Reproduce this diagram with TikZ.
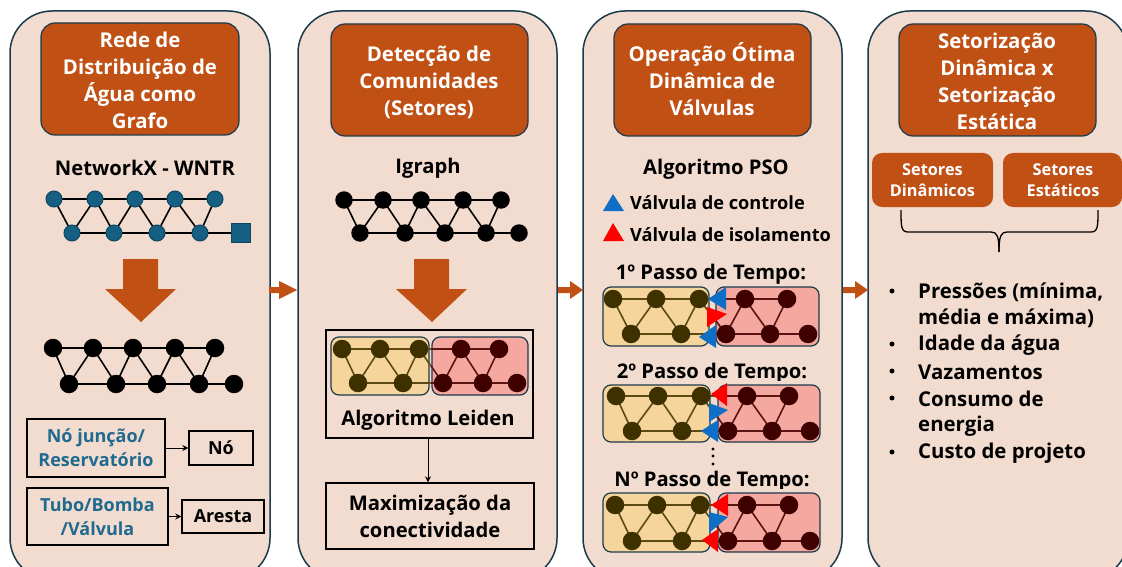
\documentclass[tikz,border=0pt]{standalone}
\usepackage{fontspec}
\setmainfont{Open Sans}
\usetikzlibrary{arrows.meta,calc}
\definecolor{panelfill}{HTML}{F2DCD0}
\definecolor{panelline}{HTML}{1B3A4B}
\definecolor{rust}{HTML}{C05014}
\definecolor{netblue}{HTML}{156082}
\definecolor{netblueline}{HTML}{0F4761}
\definecolor{tealtext}{HTML}{1F6A8E}
\definecolor{ygfill}{HTML}{F5D59B}
\definecolor{rdfill}{HTML}{F5A8A0}
\definecolor{ygnode}{HTML}{3F3000}
\definecolor{rdnode}{HTML}{3F0000}
\definecolor{ygedge}{HTML}{5C4A14}
\definecolor{rdedge}{HTML}{5A1212}
\definecolor{valveblue}{HTML}{0F6FC6}
\definecolor{valvered}{HTML}{FF0000}
\tikzset{
  panel/.style={draw=panelline,line width=1.5pt,fill=panelfill,rounded corners=42pt},
  head/.style={draw=panelline,line width=1.2pt,fill=rust,rounded corners=14pt},
  headtext/.style={text=white,font=\fontsize{20.4}{27}\selectfont\bfseries,align=center,inner sep=0pt},
  subhead/.style={text=white,font=\fontsize{16.3}{21}\selectfont\bfseries,align=center,inner sep=0pt},
  label/.style={text=black,font=\fontsize{20.2}{27}\selectfont\bfseries,align=center,inner sep=0pt},
  mid/.style={text=black,font=\fontsize{20.2}{27}\selectfont\bfseries,align=center,inner sep=0pt},
  legend/.style={text=black,font=\fontsize{18.2}{20}\selectfont\bfseries,anchor=west,inner sep=0pt},
  bul/.style={text=black,font=\fontsize{20.4}{27}\selectfont\bfseries,anchor=west,inner sep=0pt},
  tealbox/.style={text=tealtext,font=\fontsize{18}{24}\selectfont\bfseries,align=center,inner sep=0pt},
  blackbox/.style={text=black,font=\fontsize{18}{24}\selectfont\bfseries,align=center,inner sep=0pt},
  frame/.style={draw=black,line width=1.4pt},
  dot/.style={circle,minimum size=#1,inner sep=0pt},
  bluenode/.style={dot=16pt,fill=netblue,draw=netblueline,line width=1pt},
  blacknode/.style={dot=18.5pt,fill=black},
  smallblack/.style={dot=17.5pt,fill=black},
  yn/.style={dot=18.5pt,fill=ygnode},
  rn/.style={dot=18.5pt,fill=rdnode},
  link/.style={line width=1.6pt},
  orange/.style={fill=rust,draw=none},
  ptr/.style={draw=black,line width=1pt,-{Stealth[length=6pt,width=6pt]}},
  cbox/.style={draw=panelline,line width=1.2pt,rounded corners=8pt},
}
\newcommand{\placecoords}[5]{%
  \foreach \xx [count=\ii] in {#2} {\coordinate (#1t\ii) at (\xx,#3);}
  \foreach \xx [count=\ii] in {#4} {\coordinate (#1b\ii) at (\xx,#5);}
}
\newcommand{\netedges}[2]{%
  \draw[link,#2] (#1t1)--(#1t2)--(#1t3)--(#1t4)--(#1t5)--(#1b4)--(#1t4)--(#1b3)--(#1t3)--(#1b2)--(#1t2)--(#1b1)--(#1t1);
  \draw[link,#2] (#1b1)--(#1b2)--(#1b3)--(#1b4)--(#1b5);
}
\newcommand{\plainnet}[2]{%
  \foreach \ii in {1,...,5} {\node[#2] (#1T\ii) at (#1t\ii) {};}
  \foreach \ii in {1,...,5} {\node[#2] (#1B\ii) at (#1b\ii) {};}
}
\newcommand{\community}[7]{%
  \path[cbox,fill=ygfill] (#2,#6) rectangle (#3,#7);
  \path[cbox,fill=rdfill] (#4,#6) rectangle (#5,#7);
  \begin{scope}
    \clip (#2-3,#6-3) rectangle ({(#3+#4)/2},#7+3);
    \netedges{#1}{ygedge}
  \end{scope}
  \begin{scope}
    \clip ({(#3+#4)/2},#6-3) rectangle (#5+3,#7+3);
    \netedges{#1}{rdedge}
  \end{scope}
  \foreach \nn in {t1,t2,t3,b1,b2} {\node[yn] (#1n\nn) at (#1\nn) {};}
  \foreach \nn in {t4,t5,b3,b4,b5} {\node[rn] (#1n\nn) at (#1\nn) {};}
}
\newcommand{\valve}[4]{\fill[#4] #1 -- #2 -- #3 -- cycle;}
\begin{document}
\begin{tikzpicture}[x=1pt,y=-1pt]
\clip (0,0) rectangle (1122,567);
\fill[white] (0,0) rectangle (1122,567);
% panels
\draw[panel] (10,11) rectangle (270,580);
\draw[panel] (298,11) rectangle (557,580);
\draw[panel] (583,11) rectangle (842,580);
\draw[panel] (868,11) rectangle (1128,580);
% header boxes
\draw[head] (41,23) rectangle (239,135);
\draw[head] (331,24) rectangle (528,136);
\draw[head] (614,24) rectangle (811,136);
\draw[head] (899,24) rectangle (1096,136);
\node[headtext] (h1) at (140,80.5) {Rede de\\Distribuição de\\Água como\\Grafo};
\node[headtext] (h2) at (429,82.5) {Detecção de\\Comunidades\\(Setores)};
\node[headtext] (h3) at (712,79) {Operação Ótima\\Dinâmica de\\Válvulas};
\node[headtext] (h4) at (997,81.5) {Setorização\\Dinâmica x\\Setorização\\Estática};
% between-panel arrows
\fill[orange] (269,287) -- (279,287) -- (279,281) -- (297,290) -- (279,299) -- (279,293) -- (269,293) -- cycle;
\fill[orange] (558,287) -- (570,287) -- (570,281) -- (583,290) -- (570,299) -- (570,293) -- (558,293) -- cycle;
\fill[orange] (843,287) -- (855,287) -- (855,281) -- (868,290) -- (855,299) -- (855,293) -- (843,293) -- cycle;
% panel 1
\node[label] (nx) at (145,168) {NetworkX - WNTR};
\placecoords{a}{54,95,135,175,215}{199}{72,114,157,200,241}{233}
\netedges{a}{black}
\foreach \ii in {1,...,5} {\node[bluenode] (aT\ii) at (at\ii) {};}
\foreach \ii in {1,...,4} {\node[bluenode] (aB\ii) at (ab\ii) {};}
\node[draw=netblueline,fill=netblue,line width=1pt,minimum size=19pt,inner sep=0pt] (aB5) at (ab5) {};
\fill[orange] (123,259) -- (158,259) -- (158,289) -- (176,289) -- (141,322) -- (105,289) -- (123,289) -- cycle;
\placecoords{c}{53,93,133,175,215}{348}{69,116,157,199,234}{384}
\netedges{c}{black}
\plainnet{c}{blacknode}
\node[frame,minimum width=138pt,minimum height=58pt,inner sep=0pt] (j1) at (96,448) {};
\node[tealbox] (j1t) at (96,448) {Nó junção/\\Reservatório};
\node[frame,minimum width=64pt,minimum height=34pt,inner sep=0pt,blackbox] (j2) at (221,448) {Nó};
\draw[ptr] (j1) -- (j2);
\node[frame,minimum width=141pt,minimum height=57pt,inner sep=0pt] (k1) at (97.5,516.5) {};
\node[tealbox] (k1t) at (97.5,516.5) {Tubo/Bomba\\/Válvula};
\node[frame,minimum width=82pt,minimum height=33pt,inner sep=0pt,blackbox] (k2) at (223,516.5) {Aresta};
\draw[ptr] (k1) -- (k2);
% panel 2
\node[label] (ig) at (428,168) {Igraph};
\placecoords{d}{344,383,421,463,501}{200}{360,405,445,486,519}{233}
\netedges{d}{black}
\plainnet{d}{smallblack}
\fill[orange] (414,259) -- (449,259) -- (449,289) -- (467,289) -- (432,322) -- (396,289) -- (414,289) -- cycle;
\node[frame,minimum width=207pt,minimum height=108pt,inner sep=0pt] (leid) at (429.5,384) {};
\placecoords{e}{342,380,419,461,499}{349}{358,403,443,483,517}{383}
\community{e}{331}{429}{432}{528}{337}{395}
\node[mid] (leidt) at (428,420.5) {Algoritmo Leiden};
\node[frame,minimum width=208pt,minimum height=66pt,inner sep=0pt,mid] (maxi) at (430,516) {Maximização da\\conectividade};
\draw[ptr] (leid.south -| maxi.north) ++(-2,0) coordinate (lstart) -- (lstart |- maxi.north);
% panel 3
\node[label] (pso) at (716,169) {Algoritmo PSO};
\valve{(613,194)}{(603,211)}{(624,211)}{valveblue}
\valve{(613,223)}{(603,241)}{(624,241)}{valvered}
\node[legend] (lg1) at (630,203) {Válvula de controle};
\node[legend] (lg2) at (630,235) {Válvula de isolamento};
\node[mid] (s1) at (711,274.5) {1º Passo de Tempo:};
\begin{scope}
  \clip (600,360) rectangle (830,380);
  \node[mid] (s2) at (712,373) {2º Passo de Tempo:};
\end{scope}
\begin{scope}
  \clip (600,468) rectangle (830,488);
  \node[mid] (s3) at (712,481) {Nº Passo de Tempo:};
\end{scope}
\placecoords{f}{613,656,699,745,787}{299}{631,681,726,770,808}{334}
\community{f}{603}{709}{716}{819}{287}{346}
\valve{(708,299)}{(726,287)}{(726,310)}{valveblue}
\valve{(727,314)}{(707,307)}{(707,327)}{valvered}
\valve{(699,337)}{(716,325)}{(716,348)}{valveblue}
\placecoords{g}{616,658,701,747,789}{396}{632,682,728,772,810}{431}
\community{g}{603}{710}{718}{820}{385}{442}
\valve{(711,394)}{(727,383)}{(727,406)}{valvered}
\valve{(728,410)}{(709,403)}{(709,422)}{valveblue}
\valve{(701,431)}{(718,420)}{(718,442)}{valveblue}
\foreach \yy in {449,456,464} {\fill[black] (713,\yy) circle (1.6pt);}
\placecoords{h}{615,657,700,747,789}{505}{632,682,728,772,810}{541}
\community{h}{603}{710}{718}{820}{493}{552}
\valve{(711,505)}{(728,494)}{(728,516)}{valvered}
\valve{(728,517)}{(709,512)}{(709,533)}{valveblue}
\valve{(702,540)}{(718,529)}{(718,552)}{valvered}
% panel 4
\draw[fill=rust,draw=none,rounded corners=10pt] (872,153) rectangle (993,207);
\draw[fill=rust,draw=none,rounded corners=10pt] (1003,153) rectangle (1122,207);
\node[subhead] (sd) at (932.5,180) {Setores\\Dinâmicos};
\node[subhead] (se) at (1063,180) {Setores\\Estáticos};
\coordinate (brL) at (901,210);
\coordinate (brR) at (1098,210);
\coordinate (brB) at (999,252);
\draw[black,line width=1.3pt] (brL) .. controls (901,226) and (901,232) .. (908,232) -- (991,232) .. controls (997,232) and (999,236) .. (brB);
\draw[black,line width=1.3pt] (brR) .. controls (1098,226) and (1098,232) .. (1091,232) -- (1007,232) .. controls (1001,232) and (999,236) .. (brB);
\foreach \yy in {291,344,371,398,452} {\fill[black] (892,\yy) circle (2.5pt);}
\node[bul] (b1) at (918,292) {Pressões (mínima,};
\node[bul] (b1b) at (918,318) {média e máxima)};
\node[bul] (b2) at (918,345) {Idade da água};
\node[bul] (b3) at (918,372) {Vazamentos};
\node[bul] (b4) at (918,399) {Consumo de};
\node[bul] (b4b) at (918,426) {energia};
\node[bul] (b5) at (918,453) {Custo de projeto};
\end{tikzpicture}
\end{document}
